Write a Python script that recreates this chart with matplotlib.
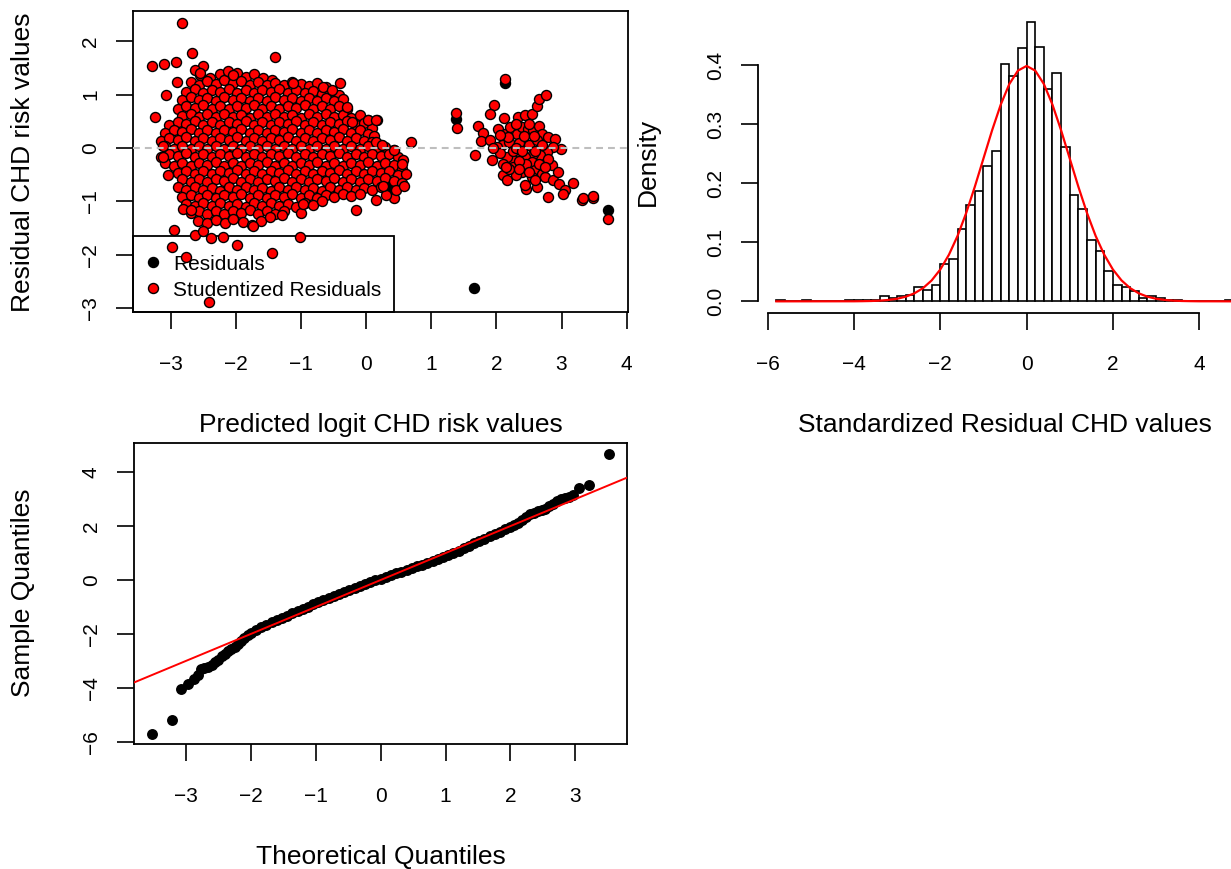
import matplotlib
matplotlib.use("Agg")
import matplotlib.pyplot as plt
from matplotlib.patches import Rectangle

plt.rcParams['font.family'] = ['Liberation Sans', 'DejaVu Sans']

# ---- residuals vs predicted ----
# main blob, one list pair per band of residual values
blob_x_rows = [
    [-2.55, -2.40, -2.25, -2.12, -1.98, -1.85, -1.72, -1.58, -1.45],
    [-2.70, -2.57, -2.44, -2.31, -2.18, -2.05, -1.92, -1.79, -1.66, -1.53, -1.40, -1.27, -1.14, -1.01, -0.88, -0.75, -0.62],
    [-2.765, -2.635, -2.505, -2.375, -2.245, -2.115, -1.985, -1.855, -1.725, -1.595, -1.465, -1.335, -1.205, -1.075,
     -0.945, -0.815, -0.685, -0.555, -0.425],
    [-2.83, -2.70, -2.57, -2.44, -2.31, -2.18, -2.05, -1.92, -1.79, -1.66, -1.53, -1.40, -1.27, -1.14, -1.01, -0.88,
     -0.75, -0.62, -0.49, -0.36],
    [-2.895, -2.765, -2.635, -2.505, -2.375, -2.245, -2.115, -1.985, -1.855, -1.725, -1.595, -1.465, -1.335, -1.205,
     -1.075, -0.945, -0.815, -0.685, -0.555, -0.425, -0.295],
    [-2.83, -2.70, -2.57, -2.44, -2.31, -2.18, -2.05, -1.92, -1.79, -1.66, -1.53, -1.40, -1.27, -1.14, -1.01, -0.88,
     -0.75, -0.62, -0.49, -0.36, -0.23, -0.10, 0.03, 0.16],
    [-3.025, -2.895, -2.765, -2.635, -2.505, -2.375, -2.245, -2.115, -1.985, -1.855, -1.725, -1.595, -1.465, -1.335,
     -1.205, -1.075, -0.945, -0.815, -0.685, -0.555, -0.425, -0.295, -0.165, -0.035, 0.095],
    [-3.09, -2.96, -2.83, -2.70, -2.57, -2.44, -2.31, -2.18, -2.05, -1.92, -1.79, -1.66, -1.53, -1.40, -1.27, -1.14,
     -1.01, -0.88, -0.75, -0.62, -0.49, -0.36, -0.23, -0.10, 0.03, 0.12],
    [-3.155, -3.025, -2.895, -2.765, -2.635, -2.505, -2.375, -2.245, -2.115, -1.985, -1.855, -1.725, -1.595, -1.465,
     -1.335, -1.205, -1.075, -0.945, -0.815, -0.685, -0.555, -0.425, -0.295, -0.165, -0.035, 0.095, 0.225],
    [-3.09, -2.96, -2.83, -2.70, -2.57, -2.44, -2.31, -2.18, -2.05, -1.92, -1.79, -1.66, -1.53, -1.40, -1.27, -1.14,
     -1.01, -0.88, -0.75, -0.62, -0.49, -0.36, -0.23, -0.10, 0.03, 0.16, 0.29, 0.42],
    [-3.155, -3.025, -2.895, -2.765, -2.635, -2.505, -2.375, -2.245, -2.115, -1.985, -1.855, -1.725, -1.595, -1.465,
     -1.335, -1.205, -1.075, -0.945, -0.815, -0.685, -0.555, -0.425, -0.295, -0.165, -0.035, 0.095, 0.225, 0.355,
     0.485, 0.57],
    [-3.09, -2.96, -2.83, -2.70, -2.57, -2.44, -2.31, -2.18, -2.05, -1.92, -1.79, -1.66, -1.53, -1.40, -1.27, -1.14,
     -1.01, -0.88, -0.75, -0.62, -0.49, -0.36, -0.23, -0.10, 0.03, 0.16, 0.29, 0.42, 0.55],
    [-2.895, -2.765, -2.635, -2.505, -2.375, -2.245, -2.115, -1.985, -1.855, -1.725, -1.595, -1.465, -1.335, -1.205,
     -1.075, -0.945, -0.815, -0.685, -0.555, -0.425, -0.295, -0.165, -0.035, 0.095, 0.225, 0.355, 0.485, 0.615],
    [-2.83, -2.70, -2.57, -2.44, -2.31, -2.18, -2.05, -1.92, -1.79, -1.66, -1.53, -1.40, -1.27, -1.14, -1.01, -0.88,
     -0.75, -0.62, -0.49, -0.36, -0.23, -0.10, 0.03, 0.16, 0.29, 0.42, 0.55],
    [-2.895, -2.765, -2.635, -2.505, -2.375, -2.245, -2.115, -1.985, -1.855, -1.725, -1.595, -1.465, -1.335, -1.205,
     -1.075, -0.945, -0.815, -0.685, -0.555, -0.425, -0.295, -0.165, -0.035, 0.095, 0.225],
    [-2.83, -2.70, -2.57, -2.44, -2.31, -2.18, -2.05, -1.92, -1.79, -1.66, -1.53, -1.40, -1.27, -1.14, -1.01, -0.88,
     -0.75, -0.62, -0.49, -0.36, -0.23, -0.10],
    [-2.765, -2.635, -2.505, -2.375, -2.245, -2.115, -1.985, -1.855, -1.725, -1.595, -1.465, -1.335, -1.205, -1.075,
     -0.945, -0.815, -0.685],
    [-2.70, -2.57, -2.44, -2.31, -2.18, -2.05, -1.92, -1.79, -1.66, -1.53, -1.40, -1.27],
    [-2.58, -2.44, -2.31, -2.17, -2.04, -1.90, -1.76, -1.62, -1.48],
]
blob_y_rows = [
    [1.36, 1.31, 1.38, 1.33, 1.40, 1.34, 1.38, 1.31, 1.27],
    [1.23, 1.18, 1.25, 1.20, 1.27, 1.21, 1.26, 1.19, 1.24, 1.18, 1.22, 1.19, 1.24, 1.20, 1.16, 1.21, 1.14],
    [1.05, 1.10, 1.04, 1.09, 1.05, 1.10, 1.04, 1.08, 1.03, 1.09, 1.05, 1.10, 1.04, 1.08, 1.03, 1.07, 1.02, 1.06, 1.00],
    [0.90, 0.95, 0.90, 0.94, 0.89, 0.95, 0.90, 0.94, 0.88, 0.93, 0.89, 0.95, 0.90, 0.94, 0.88, 0.93, 0.89, 0.94, 0.88,
     0.92],
    [0.74, 0.79, 0.75, 0.80, 0.74, 0.78, 0.73, 0.79, 0.75, 0.80, 0.74, 0.78, 0.74, 0.79, 0.75, 0.80, 0.74, 0.78, 0.73,
     0.78, 0.73],
    [0.60, 0.64, 0.58, 0.63, 0.59, 0.64, 0.58, 0.62, 0.57, 0.63, 0.59, 0.64, 0.58, 0.62, 0.57, 0.63, 0.59, 0.64, 0.58,
     0.62, 0.57, 0.61, 0.52, 0.52],
    [0.44, 0.49, 0.45, 0.50, 0.44, 0.48, 0.43, 0.49, 0.45, 0.50, 0.44, 0.48, 0.43, 0.49, 0.45, 0.50, 0.44, 0.48, 0.43,
     0.49, 0.45, 0.50, 0.44, 0.47, 0.38],
    [0.29, 0.34, 0.30, 0.35, 0.29, 0.33, 0.28, 0.34, 0.30, 0.35, 0.29, 0.33, 0.28, 0.34, 0.30, 0.35, 0.29, 0.33, 0.28,
     0.34, 0.30, 0.35, 0.29, 0.33, 0.27, 0.22],
    [0.14, 0.19, 0.15, 0.20, 0.14, 0.18, 0.13, 0.19, 0.15, 0.20, 0.14, 0.18, 0.13, 0.19, 0.15, 0.20, 0.14, 0.18, 0.13,
     0.19, 0.15, 0.20, 0.14, 0.18, 0.13, 0.12, 0.06],
    [0.03, -0.01, 0.04, -0.02, 0.03, -0.01, 0.04, -0.02, 0.03, -0.01, 0.04, -0.02, 0.03, -0.01, 0.04, -0.02, 0.03,
     -0.01, 0.04, -0.02, 0.03, -0.01, 0.04, -0.02, 0.03, -0.01, 0.02, -0.03],
    [-0.16, -0.11, -0.15, -0.10, -0.16, -0.12, -0.17, -0.11, -0.15, -0.10, -0.16, -0.12, -0.17, -0.11, -0.15, -0.10,
     -0.16, -0.12, -0.17, -0.11, -0.15, -0.10, -0.16, -0.12, -0.17, -0.11, -0.15, -0.12, -0.17, -0.22],
    [-0.28, -0.33, -0.29, -0.34, -0.28, -0.32, -0.27, -0.33, -0.29, -0.34, -0.28, -0.32, -0.27, -0.33, -0.29, -0.34,
     -0.28, -0.32, -0.27, -0.33, -0.29, -0.34, -0.28, -0.32, -0.27, -0.33, -0.29, -0.32, -0.40],
    [-0.47, -0.43, -0.48, -0.44, -0.49, -0.43, -0.47, -0.42, -0.48, -0.44, -0.49, -0.43, -0.47, -0.42, -0.48, -0.44,
     -0.49, -0.43, -0.47, -0.42, -0.48, -0.44, -0.49, -0.43, -0.47, -0.44, -0.50, -0.48],
    [-0.58, -0.63, -0.59, -0.64, -0.58, -0.62, -0.57, -0.63, -0.59, -0.64, -0.58, -0.62, -0.57, -0.63, -0.59, -0.64,
     -0.58, -0.62, -0.57, -0.63, -0.59, -0.64, -0.58, -0.62, -0.57, -0.62, -0.66],
    [-0.74, -0.78, -0.73, -0.79, -0.75, -0.80, -0.74, -0.78, -0.73, -0.79, -0.75, -0.80, -0.74, -0.78, -0.73, -0.79,
     -0.75, -0.80, -0.74, -0.78, -0.73, -0.79, -0.75, -0.78, -0.73],
    [-0.92, -0.88, -0.93, -0.89, -0.94, -0.88, -0.92, -0.87, -0.93, -0.89, -0.94, -0.88, -0.92, -0.87, -0.93, -0.89,
     -0.94, -0.88, -0.92, -0.87, -0.90, -0.86],
    [-1.05, -1.09, -1.04, -1.08, -1.03, -1.09, -1.05, -1.10, -1.04, -1.08, -1.03, -1.09, -1.05, -1.10, -1.04, -1.06,
     -1.00],
    [-1.22, -1.18, -1.23, -1.19, -1.24, -1.18, -1.22, -1.17, -1.23, -1.19, -1.24, -1.18],
    [-1.36, -1.40, -1.35, -1.41, -1.33, -1.38, -1.44, -1.37, -1.30],
]

# isolated points around the main blob
edge_pts = [
    (-2.826, 2.35), (-3.287, 1.54), (-3.108, 1.57), (-2.923, 1.61), (-2.672, 1.78), (-1.397, 1.71), (-3.24, 0.59), (-3.077, 0.99),
    (-2.913, 1.23), (-2.51, 1.54), (-2.63, 1.46), (-2.55, 1.40), (-2.13, 1.45), (-2.04, 1.36), (-0.404, 1.22), (-1.121, 1.22),
    (-0.66, 1.14), (-0.53, 1.08), (0.687, 0.11), (-3.118, 0.03), (-3.118, -0.17), (-3.04, -0.51), (-2.82, -1.15), (-2.70, -1.16),
    (-2.954, -1.54), (-2.98, -1.86), (-2.775, -2.04), (-2.416, -2.89), (-2.63, -1.64), (-2.39, -1.69), (-2.206, -1.66), (-2.51, -1.55),
    (-1.99, -1.81), (-1.735, -1.47), (-1.454, -1.96), (-1.30, -1.26), (-1.018, -1.66), (-1.003, -1.21), (-0.158, -1.17), (0.144, -0.97),
    (0.43, -0.93), (0.30, -0.88), (0.45, -0.78), (0.58, -0.72), (0.55, -0.30), (0.25, -0.72), (-0.30, 0.77), (-0.22, 0.49), (0.03, 0.52),
    (0.15, 0.52), (0.15, 0.11), (0.24, 0.05), (0.42, -0.03), (-0.97, -1.05),
]

# second cluster on the right
right_pts = [
    (2.13, 1.30), (1.378, 0.66), (1.39, 0.375), (1.67, -0.14), (1.71, 0.42), (1.79, 0.29), (1.77, 0.13), (1.966, 0.80), (1.90, 0.64),
    (2.11, 0.57), (2.336, 0.59), (2.438, 0.62), (2.54, 0.63), (2.63, 0.78), (2.66, 0.91), (2.76, 1.00), (2.028, 0.364), (2.13, 0.27),
    (2.207, 0.395), (2.31, 0.27), (2.387, 0.395), (2.489, 0.364), (2.566, 0.332), (2.658, 0.407), (2.694, 0.27), (2.796, 0.208),
    (2.898, 0.176), (2.986, -0.011), (2.873, 0.02), (2.77, -0.074), (2.668, -0.137), (2.566, -0.105), (2.438, -0.168), (2.336, -0.074),
    (2.259, -0.231), (2.156, -0.168), (2.079, 0.051), (2.003, 0.02), (1.90, 0.145), (1.926, -0.231), (2.105, -0.293), (2.105, -0.512),
    (2.156, -0.606), (2.259, -0.356), (2.387, -0.45), (2.463, -0.324), (2.54, -0.262), (2.59, -0.419), (2.694, -0.481), (2.745, -0.544),
    (2.847, -0.324), (2.873, -0.606), (2.965, -0.669), (3.053, -0.794), (3.181, -0.657), (3.017, -0.857), (3.309, -0.982), (3.325, -0.932),
    (3.478, -0.932), (3.488, -0.907), (2.796, -0.92), (2.617, -0.731), (2.453, -0.763), (2.438, -0.70), (3.719, -1.338), (2.20, 0.12),
    (2.35, 0.10), (2.50, 0.05), (2.62, 0.15), (2.25, -0.05), (2.45, -0.30), (2.35, -0.25), (2.65, -0.30), (2.55, -0.55), (2.30, -0.50),
    (2.18, 0.20), (2.42, 0.22), (2.58, 0.22), (2.05, -0.10), (2.70, 0.05), (2.80, -0.20), (2.95, -0.45), (2.20, -0.40),
    (2.05, 0.25), (2.30, 0.00), (2.60, -0.05), (2.40, -0.05), (2.75, -0.35), (2.50, -0.45), (2.35, -0.40), (2.60, -0.60),
    (2.15, -0.35), (1.95, 0.00), (2.50, 0.45), (2.30, 0.45),
]

# raw residuals that show from behind the studentized ones
resid_pts = [(0.40, -0.70), (0.42, -0.80), (0.37, -0.76), (2.13, 1.21), (1.378, 0.55), (3.719, -1.17), (1.654, -2.62)]

legend_labels = ['Residuals', 'Studentized Residuals']
legend_colors = ['black', 'red']

# ---- histogram of standardized residuals ----
bin_left = [round(-5.8 + 0.2 * i, 1) for i in range(53)]
bin_dens = [0.0022, 0, 0, 0.0022, 0, 0, 0, 0, 0.0022, 0.0022, 0.0022, 0.0022,
            0.0086, 0.0065, 0.0086, 0.0108, 0.0237, 0.0194, 0.0280, 0.0633, 0.0723, 0.1226,
            0.1633, 0.1870, 0.2288, 0.2542, 0.4023, 0.3825, 0.4294, 0.4734, 0.4316, 0.3605,
            0.3864, 0.2610, 0.1808, 0.1565, 0.1045, 0.0847, 0.0520, 0.0282, 0.0243, 0.0181,
            0.0054, 0.0097, 0.0065, 0.0022, 0.0022, 0, 0, 0, 0, 0, 0.0022]
curve_x = [-5.8, -4.2, -4.0, -3.8, -3.6, -3.4, -3.2, -3.0, -2.8, -2.6, -2.4, -2.2, -2.0, -1.8, -1.6, -1.4, -1.2,
           -1.0, -0.8, -0.6, -0.4, -0.2, 0.0, 0.2, 0.4, 0.6, 0.8, 1.0, 1.2, 1.4, 1.6, 1.8, 2.0, 2.2, 2.4, 2.6,
           2.8, 3.0, 3.2, 3.4, 3.6, 3.8, 4.0, 4.2, 4.8]
curve_y = [0.0, 0.0001, 0.0001, 0.0003, 0.0006, 0.0012, 0.0024, 0.0044, 0.0079, 0.0136, 0.0224, 0.0355, 0.0540,
           0.0790, 0.1109, 0.1497, 0.1942, 0.2420, 0.2897, 0.3332, 0.3683, 0.3910, 0.3989, 0.3910, 0.3683, 0.3332,
           0.2897, 0.2420, 0.1942, 0.1497, 0.1109, 0.0790, 0.0540, 0.0355, 0.0224, 0.0136, 0.0079, 0.0044, 0.0024,
           0.0012, 0.0006, 0.0003, 0.0001, 0.0001, 0.0]

# ---- normal Q-Q ----
qq_theo = [-3.52, -3.22, -3.07, -2.96, -2.88, -2.82, -2.77, -2.72, -2.66, -2.60, -2.55, -2.50, -2.45, -2.40, -2.35,
           -2.30, -2.25, -2.20, -2.15, -2.10, -2.05, -2.00, -1.92, -1.84, -1.76, -1.68, -1.60, -1.52, -1.44, -1.36,
           -1.28, -1.20, -1.12, -1.04, -0.96, -0.88, -0.80, -0.72, -0.64, -0.56, -0.48, -0.40, -0.32, -0.24, -0.16,
           -0.08, 0.00, 0.08, 0.16, 0.24, 0.32, 0.40, 0.48, 0.56, 0.64, 0.72, 0.80, 0.88, 0.96, 1.04, 1.12, 1.20,
           1.28, 1.36, 1.44, 1.52, 1.60, 1.68, 1.76, 1.84, 1.92, 2.00, 2.06, 2.12, 2.18, 2.24, 2.30, 2.36, 2.42,
           2.48, 2.54, 2.60, 2.66, 2.72, 2.78, 2.84, 2.90, 2.96, 3.06, 3.21, 3.52]
qq_sample = [-5.68, -5.19, -4.02, -3.83, -3.65, -3.52, -3.30, -3.25, -3.23, -3.15, -3.05, -2.95, -2.82, -2.72, -2.63,
             -2.56, -2.48, -2.38, -2.26, -2.14, -2.05, -1.97, -1.86, -1.75, -1.66, -1.57, -1.49, -1.41, -1.33, -1.24,
             -1.16, -1.07, -0.99, -0.90, -0.82, -0.74, -0.66, -0.58, -0.51, -0.44, -0.37, -0.30, -0.23, -0.16, -0.09,
             -0.02, 0.04, 0.11, 0.18, 0.24, 0.31, 0.37, 0.44, 0.50, 0.57, 0.64, 0.71, 0.78, 0.85, 0.92, 1.00, 1.08,
             1.17, 1.26, 1.35, 1.44, 1.52, 1.61, 1.70, 1.79, 1.88, 1.97, 2.04, 2.11, 2.20, 2.32, 2.42, 2.48, 2.53,
             2.58, 2.64, 2.72, 2.82, 2.90, 2.98, 3.04, 3.08, 3.14, 3.38, 3.50, 4.64]
qq_intercept = -0.003
qq_slope = 0.997

W, H = 1231, 869
fig = plt.figure(figsize=(W / 100, H / 100), dpi=100)


def px_axes(left, top, right, bottom):
    return fig.add_axes([left / W, 1 - bottom / H, (right - left) / W, (bottom - top) / H])


def r_style(ax, box=True):
    for s in ax.spines.values():
        s.set_linewidth(1.3)
    if not box:
        ax.spines['top'].set_visible(False)
        ax.spines['right'].set_visible(False)
    ax.tick_params(direction='out', length=12.2, width=1.2, labelsize=15)
    ax.tick_params(axis='x', pad=18.5)
    ax.tick_params(axis='y', pad=11.5, labelrotation=90)
    for lab in ax.get_yticklabels():
        lab.set_va('center')


# top-left: residual scatter
ax1 = px_axes(133.3, 11.3, 627.7, 312.3)
ax1.set_xlim(-3.579, 4.017)
ax1.set_ylim(-3.08, 2.563)
ax1.set_xticks(range(-3, 5))
ax1.set_yticks(range(-3, 3))
r_style(ax1)

fit_x = [x for row in blob_x_rows for x in row] + [p[0] for p in edge_pts + right_pts]
stud_y = [y for row in blob_y_rows for y in row] + [p[1] for p in edge_pts + right_pts]
ax1.scatter([p[0] for p in resid_pts], [p[1] for p in resid_pts], s=52, c='black',
            edgecolors='black', linewidths=1.0, zorder=2)
ax1.scatter(fit_x, stud_y, s=52, c='red', edgecolors='black', linewidths=1.0, zorder=2.1)
ax1.axhline(0, color='#bebebe', lw=1.5, ls=(0, (3.3, 2.4)), zorder=3)

# legend box in the bottom-left corner, drawn under the points like R does
ax1.add_patch(Rectangle((0, 0), 0.527, 0.2535, transform=ax1.transAxes, facecolor='white',
                        edgecolor='black', lw=1.3, zorder=1.5, clip_on=False))
for i, (name, col) in enumerate(zip(legend_labels, legend_colors)):
    yy = 0.167 - i * 0.0865
    ax1.scatter([0.0398], [yy], s=52, c=col, edgecolors='black', linewidths=1.0,
                transform=ax1.transAxes, zorder=1.6)
    ax1.text(0.0803, yy, name, transform=ax1.transAxes, fontsize=15, ha='left',
             va='center_baseline', zorder=1.6)

# top-right: histogram
ax2 = px_axes(758.3, 11.0, 1252.0, 312.5)
ax2.bar(bin_left, bin_dens, width=0.2, align='edge', color='white', edgecolor='black', linewidth=1.2)
ax2.plot(curve_x, curve_y, color='red', lw=1.6)
ax2.set_xlim(-6.218, 5.224)
ax2.set_ylim(-0.0189, 0.492)
ax2.set_xticks([-6, -4, -2, 0, 2, 4])
ax2.set_yticks([0.0, 0.1, 0.2, 0.3, 0.4])
ax2.set_yticklabels(['0.0', '0.1', '0.2', '0.3', '0.4'])
ax2.spines['bottom'].set_bounds(-6, 4)
ax2.spines['left'].set_bounds(0, 0.4)
r_style(ax2, box=False)

# bottom-left: normal Q-Q
ax3 = px_axes(133.9, 443.3, 627.3, 744.3)
ax3.scatter(qq_theo, qq_sample, s=62, c='black', linewidths=0, zorder=2)
ax3.axline((0, qq_intercept), slope=qq_slope, color='red', lw=1.4, zorder=3)
ax3.set_xlim(-3.80, 3.80)
ax3.set_ylim(-6.074, 5.05)
ax3.set_xticks(range(-3, 4))
ax3.set_yticks([-6, -4, -2, 0, 2, 4])
r_style(ax3)

lab = dict(fontsize=19, ha='center', va='center')
fig.text(381 / W, 1 - 425 / H, 'Predicted logit CHD risk values', **lab)
fig.text(1004.5 / W, 1 - 425 / H, 'Standardized Residual CHD values', **lab)
fig.text(381 / W, 1 - 857 / H, 'Theoretical Quantiles', **lab)
fig.text(23 / W, 1 - 162 / H, 'Residual CHD risk values', rotation=90, **lab)
fig.text(648 / W, 1 - 162 / H, 'Density', rotation=90, **lab)
fig.text(23 / W, 1 - 593 / H, 'Sample Quantiles', rotation=90, **lab)

fig.savefig('out.png', dpi=100)
